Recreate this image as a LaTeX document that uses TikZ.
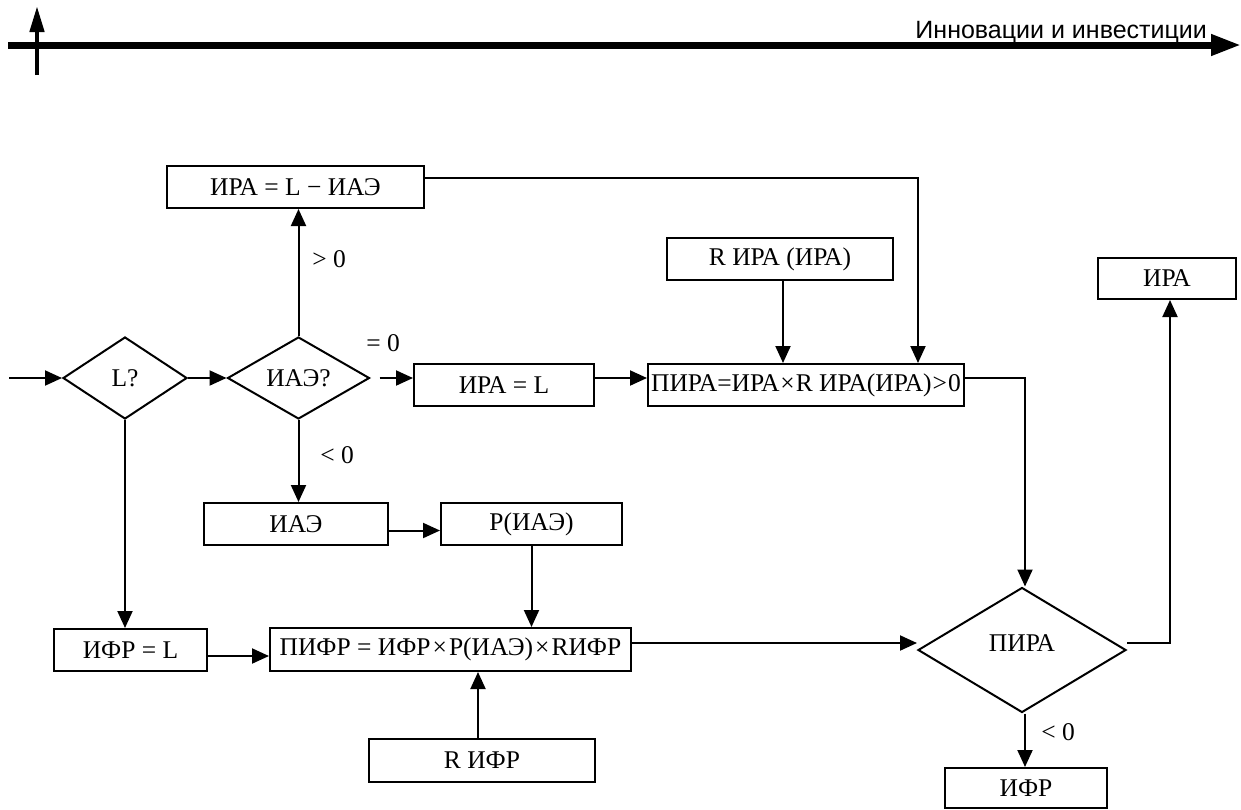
\documentclass[tikz,border=0pt]{standalone}
\usepackage{fontspec}
\setmainfont{Liberation Serif}
\newfontfamily\hdrfont{Liberation Sans}
\usetikzlibrary{shapes.geometric,arrows.meta}
\newcommand{\tsp}{\hspace{2pt}}
\begin{document}
\begin{tikzpicture}[x=1pt,y=-1pt,font=\fontsize{25.5}{30}\selectfont,
  box/.style={draw, line width=2pt, inner sep=0pt, minimum height=42pt},
  dia/.style={draw, diamond, line width=2pt, inner sep=0pt},
  arr/.style={line width=2pt, -{Triangle[length=17pt,width=15pt]}},
  ln/.style={line width=2pt},
  lbl/.style={inner sep=0pt}]
\useasboundingbox (0,0) rectangle (1241,809);
% header
\coordinate (hl) at (8,45);
\coordinate (hr) at (1241,45);
\coordinate (vb) at (37,75);
\coordinate (vt) at (37,6);
\draw[line width=7pt, -{Triangle[length=30pt,width=20pt]}] (hl) -- (hr);
\draw[line width=4.5pt, -{Triangle[length=26pt,width=14pt]}] (vb) -- (vt);
\node[anchor=base east, inner sep=0pt, font=\hdrfont\fontsize{25}{30}\selectfont] (hdr) at (1207,38) {Инновации и инвестиции};
% nodes
\node[box, minimum width=257pt] (b1) at (295.5,187) {ИРА = L − ИАЭ};
\node[box, minimum width=226pt] (rira) at (780,259) {R ИРА (ИРА)};
\node[box, minimum width=138pt, minimum height=41pt] (irar) at (1167,278.5) {ИРА};
\node[dia, minimum width=124pt, minimum height=82pt] (L) at (125,378) {L?};
\node[dia, minimum width=142pt, minimum height=82pt] (iae) at (298.5,378) {ИАЭ?};
\node[box, minimum width=180pt] (iral) at (504,385) {ИРА = L};
\node[box, minimum width=316pt] (pira) at (806,385) {ПИРА=ИРА\hspace{1pt}×\hspace{1pt}R ИРА(ИРА)\hspace{1pt}>\hspace{1pt}0};
\node[box, minimum width=184pt] (iaeb) at (296,524) {ИАЭ};
\node[box, minimum width=181pt] (piae) at (531.5,524) {Р(ИАЭ)};
\node[box, minimum width=153pt] (ifrl) at (130.5,650) {ИФР = L};
\node[box, minimum width=361pt, minimum height=43pt] (pifr) at (450.5,649.5) {ПИФР = ИФР\tsp×\tsp Р(ИАЭ)\tsp×\tsp RИФР};
\node[box, minimum width=226pt, minimum height=43pt] (rifr) at (482,760.5) {R ИФР};
\node[dia, minimum width=208pt, minimum height=125pt] (D) at (1022,650) {\raisebox{14pt}{ПИРА}};
\node[box, minimum width=162pt, minimum height=40pt] (ifr) at (1026,788) {ИФР};
% labels
\node[lbl] (g0) at (329,259) {> 0};
\node[lbl] (e0) at (383,343) {= 0};
\node[lbl] (l0) at (337,455) {< 0};
\node[lbl] (l1) at (1058,732) {< 0};
% connectors
\coordinate (in) at (9,378);
\draw[arr] (in) -- (L.west);
\draw[arr] (L.east) -- (iae.west);
\draw[arr] (iae.north) -- (iae.north |- b1.south);
\draw[arr] ([xshift=9pt]iae.east) -- (iral.west |- iae.east);
\draw[arr] (iral.east |- iae.east) -- (pira.west |- iae.east);
\draw[arr] ([yshift=9pt]b1.east) -| (pira.north -| 918,0);
\draw[arr] ([xshift=3pt]rira.south) -- ([xshift=3pt]rira.south |- pira.north);
\draw[arr] (pira.east |- iae.east) -| ([xshift=3pt]D.north);
\draw[arr] ([yshift=7pt]D.east) -| ([xshift=3pt]irar.south);
\draw[arr] ([xshift=3pt]D.south) -- ([xshift=3pt]D.south |- ifr.north);
\draw[arr] (iae.south) -- (iae.south |- iaeb.north);
\draw[arr] ([yshift=-6.5pt]iaeb.east) -- ([yshift=-6.5pt]piae.west);
\draw[arr] (piae.south) -- (piae.south |- pifr.north);
\draw[arr] (L.south) -- (L.south |- ifrl.north);
\draw[arr] ([yshift=-6pt]ifrl.east) -- (pifr.west |- 0,656);
\draw[arr] ([yshift=6.5pt]pifr.east) -- (D.west |- 0,643);
\draw[arr] ([xshift=-4pt]rifr.north) -- ([xshift=-4pt]rifr.north |- pifr.south);
\end{tikzpicture}
\end{document}
